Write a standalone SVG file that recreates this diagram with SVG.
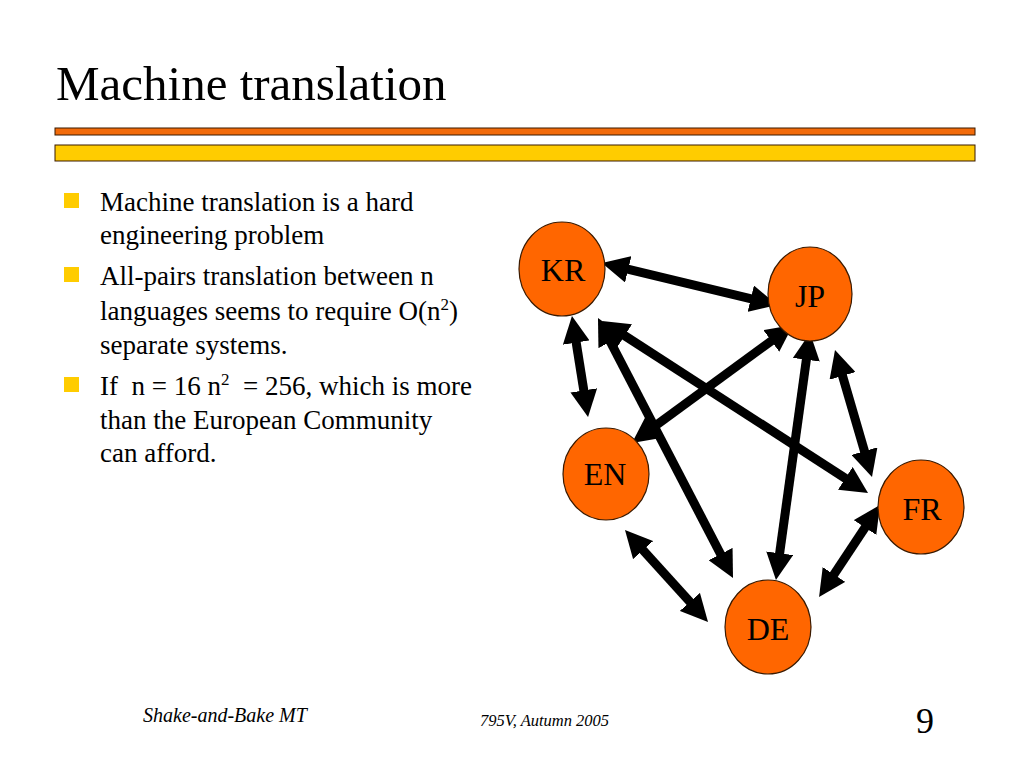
<svg xmlns="http://www.w3.org/2000/svg" width="1024" height="768" viewBox="0 0 1024 768">
<style>
.t{font-family:"Liberation Serif","Times New Roman",serif;fill:#000}
.b{font-size:27px}
.n{font-size:32px;text-anchor:middle}
.node{fill:#FF6600;stroke:#3a1a00;stroke-width:1.2}
.bul{fill:#FFCC00}
.arr{stroke:#000;stroke-width:9;fill:none;marker-start:url(#ah);marker-end:url(#ah)}
</style>
<defs>
<marker id="ah" markerUnits="userSpaceOnUse" viewBox="0 0 27 27" markerWidth="27" markerHeight="27" refX="7" refY="13.5" orient="auto-start-reverse">
<path d="M0,0 L27,13.5 L0,27 z" fill="#000"/>
</marker>
</defs>
<rect width="1024" height="768" fill="#fff"/>
<g id="title">
<text class="t" x="56" y="100" font-size="49">Machine translation</text>
<rect x="55" y="128" width="920" height="7" fill="#F26B0A" stroke="#3a1a00" stroke-width="1"/>
<rect x="55" y="145" width="920" height="16" fill="#FFCC00" stroke="#3a1a00" stroke-width="1"/>
</g>
<g id="bullets">
<rect class="bul" x="64" y="193" width="15" height="15"/>
<rect class="bul" x="64" y="267" width="15" height="15"/>
<rect class="bul" x="64" y="377" width="15" height="15"/>
<text class="t b" x="100" y="211">Machine translation is a hard</text>
<text class="t b" x="100" y="244">engineering problem</text>
<text class="t b" x="100" y="285">All-pairs translation between n</text>
<text class="t b" x="100" y="320">languages seems to require O(n<tspan dy="-10" font-size="17">2</tspan><tspan dy="10">)</tspan></text>
<text class="t b" x="100" y="354">separate systems.</text>
<text class="t b" x="100" y="395" xml:space="preserve" style="white-space:pre">If  n = 16 n<tspan dy="-10" font-size="17">2</tspan><tspan dy="10">  = 256, which is more</tspan></text>
<text class="t b" x="100" y="429">than the European Community</text>
<text class="t b" x="100" y="462">can afford.</text>
</g>
<g id="connectors">
<line class="arr" x1="621.4" y1="267.7" x2="757.6" y2="300.3"/>
<line class="arr" x1="575.1" y1="335.7" x2="584.9" y2="397.3"/>
<line class="arr" x1="607.2" y1="335.7" x2="723.8" y2="560.3"/>
<line class="arr" x1="618.8" y1="331.9" x2="851.2" y2="482.1"/>
<line class="arr" x1="776.9" y1="336.8" x2="648.1" y2="431.2"/>
<line class="arr" x1="807.3" y1="352.8" x2="778.7" y2="560.2"/>
<line class="arr" x1="840.6" y1="369.2" x2="866.4" y2="457.8"/>
<line class="arr" x1="638.4" y1="544.9" x2="694.6" y2="607.1"/>
<line class="arr" x1="868.9" y1="521.7" x2="830.1" y2="580.3"/>
</g>
<g id="node-KR"><ellipse class="node" cx="562" cy="269" rx="43" ry="47"/><text class="t n" x="563" y="281">KR</text></g>
<g id="node-JP"><ellipse class="node" cx="810" cy="294" rx="42" ry="47"/><text class="t n" x="810" y="307">JP</text></g>
<g id="node-EN"><ellipse class="node" cx="606" cy="474" rx="43" ry="46"/><text class="t n" x="605" y="485">EN</text></g>
<g id="node-FR"><ellipse class="node" cx="921" cy="507" rx="43" ry="47"/><text class="t n" x="922" y="520">FR</text></g>
<g id="node-DE"><ellipse class="node" cx="768" cy="627" rx="43" ry="47"/><text class="t n" x="768" y="640">DE</text></g>
<g id="footer">
<text class="t" x="143" y="722" font-size="20" font-style="italic">Shake-and-Bake MT</text>
<text class="t" x="480" y="726" font-size="16.5" font-style="italic">795V, Autumn 2005</text>
<text class="t" x="925" y="733" font-size="36" text-anchor="middle">9</text>
</g>
</svg>
